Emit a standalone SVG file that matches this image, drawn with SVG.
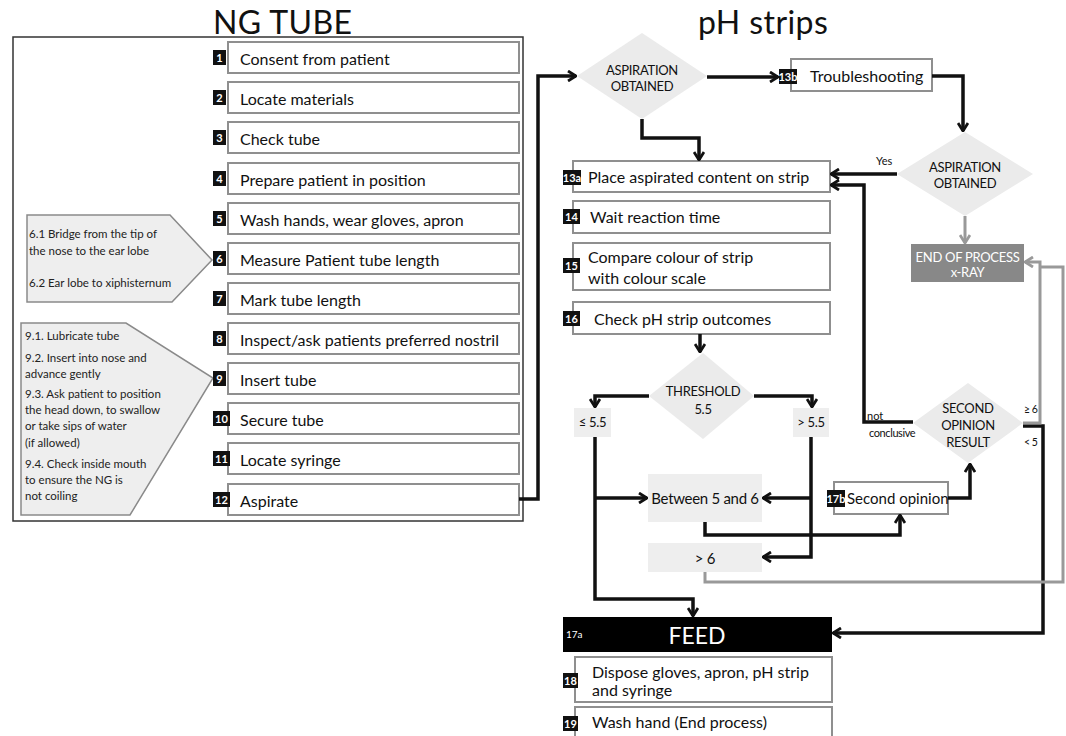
<svg xmlns="http://www.w3.org/2000/svg" width="1066" height="736" viewBox="0 0 1066 736">
<style>
text{font-family:Lato,"Open Sans","DejaVu Sans",sans-serif;fill:#111}
.title{font-size:32px;letter-spacing:0.4px}
.box{fill:#fff;stroke:#8f8f8f;stroke-width:2}
.st{font-size:16px;dominant-baseline:central}
.badge{fill:#111}
.bt{font-size:11px;font-weight:bold;fill:#fff;text-anchor:middle;dominant-baseline:central}
.dia{fill:#ebebeb}
.dt{font-size:13px;text-anchor:middle;dominant-baseline:central;letter-spacing:-0.3px}
.gbox{fill:#eeeeee}
.ct{font-size:11.5px;fill:#222;dominant-baseline:central}
.lbl{font-size:11px;dominant-baseline:central}
.k{fill:none;stroke:#111;stroke-width:3.5;stroke-linejoin:miter}
.g{fill:none;stroke:#999;stroke-width:3;stroke-linejoin:miter}
</style>
<defs>
<marker id="ak" viewBox="0 0 10 12" refX="9" refY="6" markerWidth="10" markerHeight="12" markerUnits="userSpaceOnUse" orient="auto">
<path d="M1,1 L9,6 L1,11" fill="none" stroke="#111" stroke-width="2.8"/>
</marker>
<marker id="ag" viewBox="0 0 10 12" refX="9" refY="6" markerWidth="10" markerHeight="12" markerUnits="userSpaceOnUse" orient="auto">
<path d="M1,1 L9,6 L1,11" fill="none" stroke="#999" stroke-width="2.8"/>
</marker>
</defs>
<rect width="1066" height="736" fill="#fff"/>

<text class="title" x="213" y="34">NG TUBE</text>
<text class="title" x="698" y="34">pH strips</text>

<rect id="frame" x="13" y="37" width="510" height="484" fill="none" stroke="#333" stroke-width="1.5"/>

<g id="callout6">
<polygon points="27,215 170,215 212,260 172,302 27,302" fill="#eeeeee" stroke="#8a8a8a" stroke-width="1.5"/>
<text class="ct" x="29" y="233">6.1 Bridge from the tip of</text>
<text class="ct" x="29" y="250">the nose to the ear lobe</text>
<text class="ct" x="29" y="282">6.2 Ear lobe to xiphisternum</text>
</g>
<g id="callout9">
<polygon points="21,323 126,323 213,378 130,515 21,515" fill="#eeeeee" stroke="#8a8a8a" stroke-width="1.5"/>
<text class="ct" x="25" y="335">9.1. Lubricate tube</text>
<text class="ct" x="25" y="357">9.2. Insert into nose and</text>
<text class="ct" x="25" y="373">advance gently</text>
<text class="ct" x="25" y="393">9.3. Ask patient to position</text>
<text class="ct" x="25" y="409">the head down, to swallow</text>
<text class="ct" x="25" y="425">or take sips of  water</text>
<text class="ct" x="25" y="442">(if allowed)</text>
<text class="ct" x="25" y="463">9.4. Check  inside mouth</text>
<text class="ct" x="25" y="479">to ensure the NG is</text>
<text class="ct" x="25" y="495">not coiling</text>
</g>

<g id="s1"><rect class="box" x="228" y="42" width="291" height="31"/><rect class="badge" x="213" y="50" width="13" height="15"/><text class="bt" x="219.5" y="57.5">1</text><text class="st" x="240" y="58">Consent from patient</text></g>
<g id="s2"><rect class="box" x="228" y="82" width="291" height="31"/><rect class="badge" x="213" y="90" width="13" height="15"/><text class="bt" x="219.5" y="97.5">2</text><text class="st" x="240" y="98">Locate materials</text></g>
<g id="s3"><rect class="box" x="228" y="122" width="291" height="31"/><rect class="badge" x="213" y="130" width="13" height="15"/><text class="bt" x="219.5" y="137.5">3</text><text class="st" x="240" y="138">Check tube</text></g>
<g id="s4"><rect class="box" x="228" y="163" width="291" height="31"/><rect class="badge" x="213" y="171" width="13" height="15"/><text class="bt" x="219.5" y="178.5">4</text><text class="st" x="240" y="179">Prepare patient in position</text></g>
<g id="s5"><rect class="box" x="228" y="203" width="291" height="31"/><rect class="badge" x="213" y="211" width="13" height="15"/><text class="bt" x="219.5" y="218.5">5</text><text class="st" x="240" y="219">Wash hands, wear gloves, apron</text></g>
<g id="s6"><rect class="box" x="228" y="243" width="291" height="31"/><rect class="badge" x="213" y="251" width="13" height="15"/><text class="bt" x="219.5" y="258.5">6</text><text class="st" x="240" y="259">Measure Patient tube length</text></g>
<g id="s7"><rect class="box" x="228" y="283" width="291" height="31"/><rect class="badge" x="213" y="291" width="13" height="15"/><text class="bt" x="219.5" y="298.5">7</text><text class="st" x="240" y="299">Mark tube length</text></g>
<g id="s8"><rect class="box" x="228" y="323" width="291" height="31"/><rect class="badge" x="213" y="331" width="13" height="15"/><text class="bt" x="219.5" y="338.5">8</text><text class="st" x="240" y="339">Inspect/ask patients preferred nostril</text></g>
<g id="s9"><rect class="box" x="228" y="363" width="291" height="31"/><rect class="badge" x="213" y="371" width="13" height="15"/><text class="bt" x="219.5" y="378.5">9</text><text class="st" x="240" y="379">Insert tube</text></g>
<g id="s10"><rect class="box" x="228" y="403" width="291" height="31"/><rect class="badge" x="213" y="411" width="17" height="15"/><text class="bt" x="221.5" y="418.5">10</text><text class="st" x="240" y="419">Secure tube</text></g>
<g id="s11"><rect class="box" x="228" y="443" width="291" height="31"/><rect class="badge" x="213" y="451" width="17" height="15"/><text class="bt" x="221.5" y="458.5">11</text><text class="st" x="240" y="459">Locate syringe</text></g>
<g id="s12"><rect class="box" x="228" y="484" width="291" height="31"/><rect class="badge" x="213" y="492" width="17" height="15"/><text class="bt" x="221.5" y="499.5">12</text><text class="st" x="240" y="500">Aspirate</text></g>

<g id="d1"><polygon class="dia" points="642,33 707,76 642,119 577,76"/><text class="dt" x="642" y="70">ASPIRATION</text><text class="dt" x="642" y="86">OBTAINED</text></g>
<g id="s13b"><rect class="box" x="791" y="59" width="141" height="32"/><rect class="badge" x="779" y="69" width="18" height="15"/><text class="bt" x="788" y="76.5">13b</text><text class="st" x="810" y="75">Troubleshooting</text></g>
<g id="d2"><polygon class="dia" points="965,132 1033,174 965,216 897,174"/><text class="dt" x="965" y="167">ASPIRATION</text><text class="dt" x="965" y="183">OBTAINED</text></g>
<g id="end"><rect x="911" y="244" width="113" height="38" fill="#888"/><text class="dt" x="967.5" y="257" style="fill:#fff">END OF PROCESS</text><text class="dt" x="967.5" y="272" style="fill:#fff">x-RAY</text></g>

<g id="s13a"><rect class="box" x="573" y="161" width="257" height="31"/><rect class="badge" x="563" y="170" width="18" height="15"/><text class="bt" x="572" y="177.5">13a</text><text class="st" x="588" y="176">Place aspirated content on  strip</text></g>
<g id="s14"><rect class="box" x="573" y="201" width="257" height="32"/><rect class="badge" x="563" y="209" width="17" height="15"/><text class="bt" x="571.5" y="216.5">14</text><text class="st" x="590" y="216">Wait reaction time</text></g>
<g id="s15"><rect class="box" x="573" y="243" width="257" height="47"/><rect class="badge" x="563" y="258" width="17" height="15"/><text class="bt" x="571.5" y="265.5">15</text><text class="st" x="588" y="256">Compare colour of strip</text><text class="st" x="588" y="277">with colour scale</text></g>
<g id="s16"><rect class="box" x="573" y="302" width="257" height="32"/><rect class="badge" x="563" y="311" width="17" height="15"/><text class="bt" x="571.5" y="318.5">16</text><text class="st" x="594" y="318">Check pH strip outcomes</text></g>

<g id="d3"><polygon class="dia" points="703,353 754,396 703,439 649,396"/><text class="dt" x="703" y="391">THRESHOLD</text><text class="dt" x="703" y="409">5.5</text></g>
<g id="le55"><rect class="gbox" x="574" y="408" width="37" height="29"/><text class="dt" x="592.5" y="422">≤ 5.5</text></g>
<g id="gt55"><rect class="gbox" x="793" y="408" width="36" height="29"/><text class="dt" x="811" y="422">&gt; 5.5</text></g>
<g id="b56"><rect class="gbox" x="648" y="474" width="114" height="48"/><text class="dt" x="705" y="498" style="font-size:15px">Between 5 and 6</text></g>
<g id="gt6"><rect class="gbox" x="648" y="543" width="114" height="29"/><text class="dt" x="705" y="558" style="font-size:15px">&gt; 6</text></g>
<g id="s17b"><rect class="box" x="834" y="482" width="114" height="32"/><rect class="badge" x="827" y="490" width="18" height="17"/><text class="bt" x="836" y="498.5">17b</text><text class="st" x="847" y="498" style="font-size:15px">Second opinion</text></g>
<g id="d4"><polygon class="dia" points="968,383 1023,423 968,463 913,423"/><text class="dt" x="968" y="408">SECOND</text><text class="dt" x="968" y="425">OPINION</text><text class="dt" x="968" y="442">RESULT</text></g>

<g id="s17a"><rect x="563" y="617" width="269" height="35" fill="#000"/><text x="566" y="634" style="font-size:10px;fill:#fff;dominant-baseline:central">17a</text><text x="697" y="635" style="font-size:23px;fill:#fff;text-anchor:middle;dominant-baseline:central">FEED</text></g>
<g id="s18"><rect class="box" x="575" y="657" width="257" height="45"/><rect class="badge" x="563" y="673" width="15" height="15"/><text class="bt" x="570.5" y="680.5">18</text><text class="st" x="592" y="671">Dispose gloves, apron, pH strip</text><text class="st" x="592" y="689">and syringe</text></g>
<g id="s19"><rect class="box" x="575" y="707" width="257" height="32"/><rect class="badge" x="563" y="716" width="15" height="15"/><text class="bt" x="570.5" y="723.5">19</text><text class="st" x="592" y="721">Wash hand (End process)</text></g>

<g id="connectors">
<polyline class="k" points="519,499 538,499 538,76 576,76" marker-end="url(#ak)"/>
<polyline class="k" points="707,77 778,77" marker-end="url(#ak)"/>
<polyline class="k" points="932,76 963,76 963,131" marker-end="url(#ak)"/>
<polyline class="k" points="897,174 831,174" marker-end="url(#ak)"/>
<polyline class="k" points="913,422 864,422 864,185 831,185" marker-end="url(#ak)"/>
<polyline class="g" points="965,216 965,243" marker-end="url(#ag)"/>
<polyline class="k" points="642,119 642,138 699,138 699,160" marker-end="url(#ak)"/>
<polyline class="k" points="700,334 700,352" marker-end="url(#ak)"/>
<polyline class="k" points="649,396 595,396 595,407" marker-end="url(#ak)"/>
<polyline class="k" points="754,396 812,396 812,407" marker-end="url(#ak)"/>
<polyline class="k" points="595,437 595,599 693,599 693,616" marker-end="url(#ak)"/>
<polyline class="k" points="595,498 647,498" marker-end="url(#ak)"/>
<polyline class="k" points="811,437 811,557 763,557" marker-end="url(#ak)"/>
<polyline class="k" points="811,498 763,498" marker-end="url(#ak)"/>
<polyline class="k" points="705,522 705,535 900,535 900,515" marker-end="url(#ak)"/>
<polyline class="k" points="948,498 970,498 970,464" marker-end="url(#ak)"/>
<polyline class="k" points="1023,426 1043,426 1043,633 833,633" marker-end="url(#ak)"/>
<polyline class="g" points="1023,423 1040,423 1040,262 1025,262" marker-end="url(#ag)"/>
<polyline class="g" points="705,572 705,582 1063,582 1063,267 1040,267"/>
</g>

<text class="lbl" x="876" y="160">Yes</text>
<text class="lbl" x="867" y="415">not</text>
<text class="lbl" x="869" y="432" style="letter-spacing:-0.4px">conclusive</text>
<text class="lbl" x="1024" y="409" style="font-size:10.5px;letter-spacing:-0.5px">≥ 6</text>
<text class="lbl" x="1024" y="442" style="font-size:10.5px;letter-spacing:-0.5px">&lt; 5</text>
</svg>
